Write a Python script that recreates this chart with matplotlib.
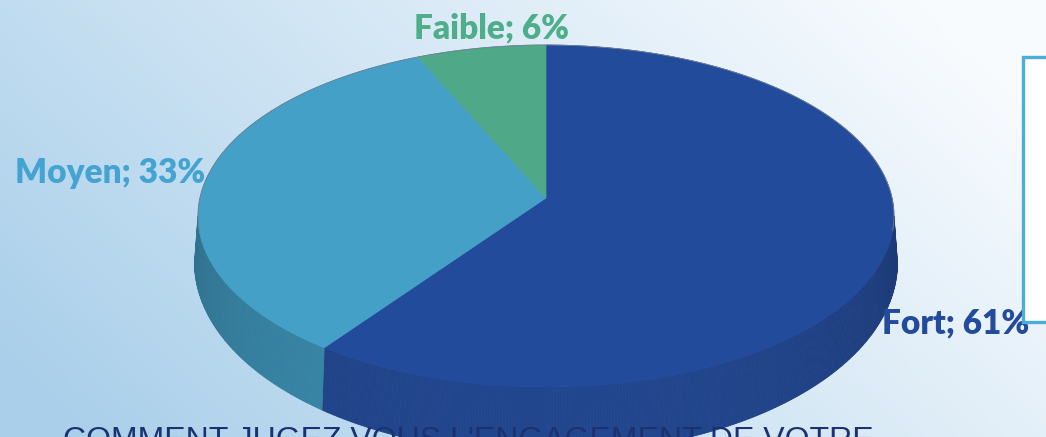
import numpy as np
import matplotlib.pyplot as plt
from matplotlib.patches import Polygon, Rectangle
from matplotlib.colors import to_rgb

# --- data ---
categories = ["Fort", "Moyen", "Faible"]
values = [61, 33, 6]
title_text = "COMMENT JUGEZ VOUS L'ENGAGEMENT DE VOTRE"

# --- styling ---
top_colors = ["#234b9b", "#44a0c6", "#4fa888"]
side_colors = ["#22468e", "#3a8aac", "#43907a"]
label_colors = ["#234b9b", "#44a3d0", "#4fae8a"]
label_pos = [(882, 333, "left"), (15, 183, "left"), (491, 38, "center")]

W, H = 1046, 437
fig = plt.figure(figsize=(W / 100, H / 100), dpi=100)
ax = fig.add_axes([0, 0, 1, 1])
ax.set_xlim(0, W)
ax.set_ylim(H, 0)
ax.axis("off")

# background gradient
c0 = np.array(to_rgb("#a9cfea"))
c1 = np.array(to_rgb("#f8fbfe"))
xx, yy = np.meshgrid(np.linspace(0, 1, 200), np.linspace(0, 1, 90))
t = np.clip(0.8 * xx + 0.35 * (1 - yy) - 0.05, 0, 1)
bg = c0 + (c1 - c0) * t[..., None]
ax.imshow(bg, extent=[0, W, H, 0], aspect="auto", zorder=0)

# pie geometry (ellipse with a raised vertex for perspective)
cx, cy = 546, 216
rx, ry = 348, 171
vx, vy = 546, 198
depth = 62


def pt(theta, dy=0, scale=1.0):
    # theta in degrees, clockwise from 12 o'clock
    a = np.radians(theta)
    return cx + rx * scale * np.sin(a), cy - ry * scale * np.cos(a) + dy


bounds = np.concatenate([[0], np.cumsum(values)]) / sum(values) * 360

# side wall (front half only: 90..270 deg)
for i in range(len(values)):
    a0, a1 = max(bounds[i], 90), min(bounds[i + 1], 270)
    if a1 <= a0:
        continue
    base = np.array(to_rgb(side_colors[i]))
    angs = np.linspace(a0, a1, int((a1 - a0) * 2) + 2)
    for j in range(len(angs) - 1):
        m = 0.5 * (angs[j] + angs[j + 1])
        shade = 0.82 + 0.18 * np.sin(np.radians(m - 90))
        col = np.clip(base * shade, 0, 1)
        d0 = depth * (0.75 + 0.3 * np.sin(np.radians(angs[j] - 90)))
        d1 = depth * (0.75 + 0.3 * np.sin(np.radians(angs[j + 1] - 90)))
        p0 = pt(angs[j])
        p1 = pt(angs[j + 1])
        p2 = pt(angs[j + 1], d1, 1.01)
        p3 = pt(angs[j], d0, 1.01)
        ax.add_patch(Polygon([p0, p1, p2, p3], closed=True, fc=col, ec=col,
                             lw=0.6, zorder=2))

# top faces
for i in range(len(values)):
    angs = np.linspace(bounds[i], bounds[i + 1], 200)
    arc = [pt(a) for a in angs]
    poly = [(vx, vy)] + arc
    ax.add_patch(Polygon(poly, closed=True, fc=top_colors[i], ec=top_colors[i],
                         lw=0.5, zorder=3))

# thin outline on the upper rim
angs = np.linspace(-95, 95, 200)
rim = np.array([pt(a) for a in angs])
ax.plot(rim[:, 0], rim[:, 1], color="#6f7f92", lw=0.6, zorder=4)

# data labels
for cat, val, col, (lx, ly, ha) in zip(categories, values, label_colors, label_pos):
    ax.text(lx, ly, f"{cat}; {val}%", color=col, fontsize=24, fontweight="heavy",
            family="Lato", ha=ha, va="baseline", zorder=5)

# legend box (empty) on the right
ax.add_patch(Rectangle((1023, 57), 60, 265, fc="white", ec="#4aaed8", lw=2.4, zorder=6))

# title at bottom, cut by the frame
ax.text(63, 426, title_text, color="#1c3270", fontsize=23, family="Liberation Sans",
        ha="left", va="top", zorder=5)

fig.savefig("out.png", dpi=100)
